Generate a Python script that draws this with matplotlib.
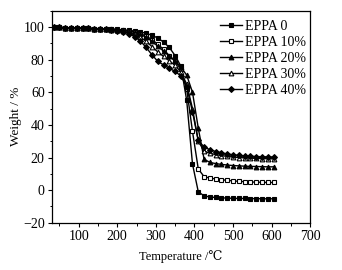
import numpy as np
import matplotlib
matplotlib.use('Agg')
import matplotlib.pyplot as plt
from matplotlib.ticker import MultipleLocator

plt.rcParams['font.family'] = ['Liberation Serif', 'DejaVu Serif']
plt.rcParams['mathtext.fontset'] = 'stix'

temp = [35, 50, 65, 80, 95, 110, 125, 140, 155, 170, 185, 200, 215, 230, 245,
        260, 275, 290, 305, 320, 335, 350, 365, 380, 395, 410, 425, 440, 455,
        470, 485, 500, 515, 530, 545, 560, 575, 590, 605]

eppa0 = [100, 99.8, 99.6, 99.5, 99.4, 99.3, 99.2, 99.1, 99.0, 98.9, 98.8, 98.6,
         98.3, 98.0, 97.6, 97.0, 96.2, 95.0, 93.3, 90.8, 87.5, 82.5, 76.0,
         55.0, 16.0, -1.0, -3.5, -4.2, -4.5, -4.7, -4.9, -5.0, -5.1, -5.1,
         -5.2, -5.2, -5.3, -5.3, -5.3]
eppa10 = [100, 99.8, 99.6, 99.5, 99.4, 99.3, 99.2, 99.1, 99.0, 98.9, 98.7, 98.5,
          98.1, 97.7, 97.0, 96.0, 94.5, 92.3, 89.5, 86.3, 82.5, 79.0, 74.0,
          62.0, 36.0, 13.0, 8.3, 7.4, 6.9, 6.4, 6.0, 5.7, 5.4, 5.2, 5.0, 4.9,
          4.8, 4.7, 4.7]
eppa20 = [100, 99.8, 99.6, 99.5, 99.4, 99.3, 99.2, 99.1, 99.0, 98.9, 98.7, 98.4,
          98.0, 97.5, 96.7, 95.5, 93.8, 91.3, 88.3, 85.3, 82.3, 79.3, 75.5,
          70.5, 60.0, 38.0, 19.0, 17.0, 16.3, 15.8, 15.4, 15.1, 14.9, 14.7,
          14.6, 14.5, 14.4, 14.3, 14.3]
eppa30 = [100, 99.8, 99.6, 99.5, 99.4, 99.3, 99.2, 99.1, 99.0, 98.8, 98.5, 98.1,
          97.5, 96.7, 95.5, 93.8, 91.3, 88.0, 84.8, 82.0, 79.3, 76.5, 72.5,
          65.0, 50.0, 30.0, 24.0, 22.6, 21.8, 21.2, 20.7, 20.3, 20.0, 19.8,
          19.6, 19.5, 19.4, 19.3, 19.2]
eppa40 = [100, 99.8, 99.6, 99.5, 99.4, 99.3, 99.2, 99.0, 98.8, 98.6, 98.3, 97.9,
          97.2, 96.0, 94.2, 91.5, 87.5, 83.0, 79.0, 76.8, 74.8, 72.8, 70.0,
          63.5, 48.0, 30.5, 26.5, 24.8, 23.7, 22.9, 22.2, 21.7, 21.3, 21.0,
          20.8, 20.6, 20.5, 20.4, 20.3]

series = [
    (eppa0, 's', 'black', 'EPPA 0'),
    (eppa10, 's', 'white', 'EPPA 10%'),
    (eppa20, '^', 'black', 'EPPA 20%'),
    (eppa30, '^', 'white', 'EPPA 30%'),
    (eppa40, 'D', 'black', 'EPPA 40%'),
]

fig = plt.figure(figsize=(3.42, 2.70), dpi=100)
ax = fig.add_axes([0.151, 0.175, 0.756, 0.785])

for vals, mk, fc, name in series:
    ms = 3.4 if mk != 'D' else 3.0
    ax.plot(temp, vals, color='black', lw=1.0, marker=mk, ms=ms,
            mfc=fc, mec='black', mew=0.8, label=name)

ax.set_xlim(30, 700)
ax.set_ylim(-20, 110)
ax.xaxis.set_minor_locator(MultipleLocator(50))
ax.yaxis.set_minor_locator(MultipleLocator(10))
ax.set_xticks(np.arange(100, 701, 100))
ax.set_yticks(np.arange(-20, 101, 20))
ax.tick_params(which='major', direction='out', length=3, width=0.8,
               labelsize=10, pad=2, colors='black')
ax.tick_params(which='minor', direction='out', length=1.8, width=0.7)
for sp in ax.spines.values():
    sp.set_linewidth(0.9)

ax.set_xlabel('Temperature /\u2103', fontsize=9, labelpad=5)
ax.set_ylabel('Weight / %', fontsize=9.5, labelpad=1)

ax.legend(loc='upper left', bbox_to_anchor=(0.615, 1.0), frameon=False,
          fontsize=10, handlelength=1.6, handletextpad=0.2, labelspacing=0.22,
          borderaxespad=0.25)

fig.savefig('out.png', dpi=100)
